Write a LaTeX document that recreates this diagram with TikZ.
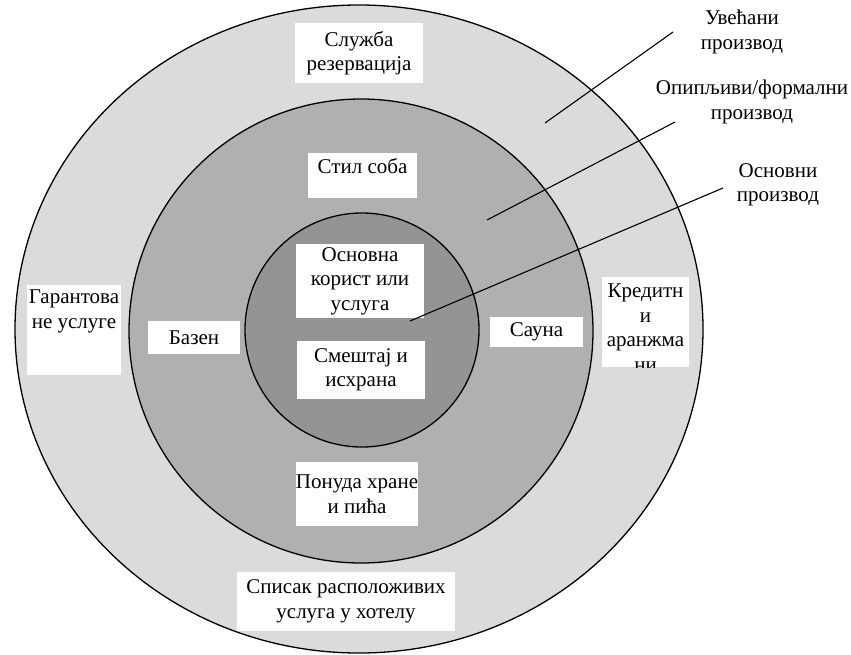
\documentclass[tikz,border=0pt]{standalone}
\usepackage{fontspec}
\setmainfont{Liberation Serif}
\usepackage{tikz}

\begin{document}
\begin{tikzpicture}[x=1pt,y=-1pt,
        ring/.style={draw=black,line width=1.3pt},
        wbox/.style={fill=white,inner sep=0pt,align=center,font=\fontsize{21}{24.5}\selectfont},
        lvl/.style={align=center,inner sep=0pt,font=\fontsize{21}{24.5}\selectfont},
        pointer/.style={line width=1.1pt}]
    \useasboundingbox (0,0) rectangle (851,654);
    % the three rings
    \draw[ring,fill=black!14] (359,329) circle [x radius=344pt, y radius=324pt];
    \draw[ring,fill=black!31] (361,331) circle [radius=232pt];
    \draw[ring,fill=black!42] (362,330) circle [radius=117pt];

    % white boxes
    \node[wbox,minimum width=128pt,minimum height=60pt] (rez) at (359,53) {Служба\\резервација};
    \node[wbox] (stil) at (362.5,175.5)
        {\parbox[t][45pt][t]{109pt}{\centering\vspace{5pt}Стил соба}};
    \node[wbox,minimum width=128pt,minimum height=74pt] (korist) at (360,281) {Основна\\корист или\\услуга};
    \node[wbox,minimum width=128pt,minimum height=58pt] (smestaj) at (361,370) {Смештај и\\исхрана};
    \node[wbox,minimum width=92pt,minimum height=33pt] (bazen) at (194,337.5) {Базен};
    \node[wbox,minimum width=93pt,minimum height=30pt] (sauna) at (536.5,332) {Сауна};
    \node[wbox,minimum width=118pt,minimum height=64pt] (hrana) at (357,494) {Понуда хране\\и пића};
    \node[wbox,minimum width=218pt,minimum height=59pt] (spisak) at (346,601.5) {Списак расположивих\\услуга у хотелу};
    \node[wbox] (garant) at (74,330)
        {\parbox[t][90pt][t]{94pt}{\centering\vspace{5pt}Гарантова\\не услуге}};
    \node[wbox,minimum width=87pt,minimum height=90pt] (kredit) at (645.5,322) {};
    \begin{scope}
        \clip (kredit.north west) rectangle (kredit.south east);
        \node[lvl,anchor=north] at ([yshift=-7pt]kredit.north) {Кредитн\\и\\аранжма\\ни};
    \end{scope}

    % level labels
    \node[lvl] (uvecani) at (742,32) {Увећани\\производ};
    \node[lvl] (opipljivi) at (752,102) {Опипљиви/формални\\производ};
    \node[lvl] (osnovni) at (778,185) {Основни\\производ};

    \coordinate (uvecani s) at (673,32);
    \coordinate (uvecani e) at (545,123);
    \coordinate (opipljivi s) at (675,122);
    \coordinate (opipljivi e) at (487,220);
    \coordinate (osnovni s) at (723,188);
    \coordinate (osnovni e) at (410,321);
    \draw[pointer] (uvecani s) -- (uvecani e);
    \draw[pointer] (opipljivi s) -- (opipljivi e);
    \draw[pointer] (osnovni s) -- (osnovni e);
\end{tikzpicture}
\end{document}
